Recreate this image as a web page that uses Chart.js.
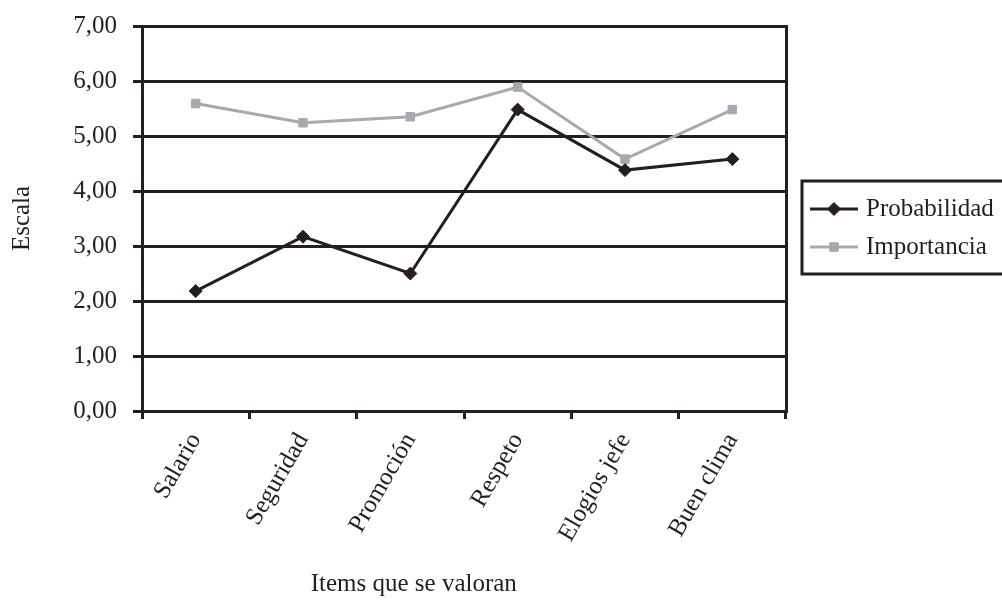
<!DOCTYPE html>
<html>
<head>
<meta charset="utf-8">
<script src="https://cdn.jsdelivr.net/npm/chart.js@4.4.1/dist/chart.umd.min.js"></script>
<style>
  html, body { margin: 0; padding: 0; background: #ffffff; }
  #wrap { width: 1002px; height: 600px; position: relative; }
</style>
</head>
<body>
<div id="wrap"><canvas id="chart" width="1002" height="600"></canvas></div>
<script>
// ---- data ----
const categories = ["Salario", "Seguridad", "Promoción", "Respeto", "Elogios jefe", "Buen clima"];
const seriesNames = ["Probabilidad", "Importancia"];
const probabilidad = [2.18, 3.17, 2.50, 5.48, 4.38, 4.58];
const importancia = [5.59, 5.24, 5.35, 5.89, 4.58, 5.48];
const yTicks = [0, 1, 2, 3, 4, 5, 6, 7];
const yTitle = "Escala";
const xTitle = "Items que se valoran";

// ---- styles ----
const DARK = "#231f20";
const GRAY = "#a7a9ac";
const FONT = "'Liberation Serif', 'Times New Roman', serif";
const FSIZE = 25;

Chart.defaults.font.family = FONT;
Chart.defaults.font.size = FSIZE;
Chart.defaults.color = DARK;

function drawMarker(ctx, style, r, x, y) {
  if (Chart.helpers && Chart.helpers.drawPoint) {
    Chart.helpers.drawPoint(ctx, { pointStyle: style, radius: r, borderWidth: 1, rotation: 0 }, x, y);
    return;
  }
  ctx.beginPath();
  if (style === "rectRot") {
    ctx.moveTo(x, y - r); ctx.lineTo(x + r, y); ctx.lineTo(x, y + r); ctx.lineTo(x - r, y); ctx.closePath();
  } else {
    const s = r * Math.SQRT1_2;
    ctx.rect(x - s, y - s, 2 * s, 2 * s);
  }
  ctx.fill(); ctx.stroke();
}

const sideLegend = {
  id: "sideLegend",
  afterDraw(chart) {
    const { ctx, chartArea } = chart;
    const left = chartArea.right + 16;
    const top = chartArea.top + 155;
    const h = 93;
    ctx.save();
    ctx.lineWidth = 3;
    ctx.strokeStyle = DARK;
    ctx.strokeRect(left, top, chart.width - left + 10, h);
    chart.data.datasets.forEach((ds, i) => {
      const y = top + 28 + i * 38;
      ctx.strokeStyle = ds.borderColor;
      ctx.lineWidth = ds.borderWidth;
      ctx.beginPath();
      ctx.moveTo(left + 8, y);
      ctx.lineTo(left + 56, y);
      ctx.stroke();
      ctx.fillStyle = ds.pointBackgroundColor;
      ctx.strokeStyle = ds.pointBorderColor;
      ctx.lineWidth = 1;
      drawMarker(ctx, ds.pointStyle, ds.pointRadius, left + 32, y);
      ctx.fillStyle = DARK;
      ctx.font = FSIZE + "px " + FONT;
      ctx.textAlign = "left";
      ctx.textBaseline = "middle";
      ctx.fillText(ds.label, left + 64, y);
    });
    ctx.restore();
  }
};

const xAxisTitle = {
  id: "xAxisTitle",
  afterDraw(chart) {
    const { ctx, chartArea } = chart;
    ctx.save();
    ctx.fillStyle = DARK;
    ctx.font = FSIZE + "px " + FONT;
    ctx.textAlign = "center";
    ctx.textBaseline = "middle";
    ctx.fillText(xTitle, chartArea.left + chartArea.width * 0.422, chart.height - 16);
    ctx.restore();
  }
};

new Chart(document.getElementById("chart"), {
  type: "line",
  data: {
    labels: categories,
    datasets: [
      {
        label: seriesNames[0],
        data: probabilidad,
        borderColor: DARK,
        backgroundColor: DARK,
        borderWidth: 3,
        pointStyle: "rectRot",
        pointRadius: 6.5,
        pointBackgroundColor: DARK,
        pointBorderColor: DARK,
        pointBorderWidth: 1,
        tension: 0,
        order: 1
      },
      {
        label: seriesNames[1],
        data: importancia,
        borderColor: GRAY,
        backgroundColor: GRAY,
        borderWidth: 3,
        pointStyle: "rect",
        pointRadius: 6,
        pointBackgroundColor: GRAY,
        pointBorderColor: GRAY,
        pointBorderWidth: 1,
        tension: 0,
        order: 2
      }
    ]
  },
  options: {
    responsive: false,
    animation: false,
    events: [],
    layout: { padding: { left: 0, right: 216, top: 26, bottom: 0 } },
    plugins: {
      legend: { display: false },
      tooltip: { enabled: false },
      title: { display: false }
    },
    scales: {
      x: {
        type: "category",
        offset: true,
        grid: {
          display: true,
          offset: true,
          drawOnChartArea: false,
          drawTicks: true,
          tickLength: 8,
          tickWidth: 3,
          tickColor: DARK,
          color: DARK,
          lineWidth: 3
        },
        border: { display: true, color: DARK, width: 3 },
        ticks: {
          autoSkip: false,
          minRotation: 60,
          maxRotation: 60,
          padding: 9,
          color: DARK,
          font: { size: FSIZE, family: FONT }
        },
        afterFit(scale) { scale.height = 189; }
      },
      y: {
        min: yTicks[0],
        max: yTicks[yTicks.length - 1],
        afterBuildTicks(scale) { scale.ticks = yTicks.map(v => ({ value: v })); },
        grid: {
          color: DARK,
          lineWidth: 3,
          drawTicks: true,
          tickLength: 9,
          tickColor: DARK
        },
        border: { display: true, color: DARK, width: 3 },
        ticks: {
          padding: 16,
          color: DARK,
          font: { size: FSIZE, family: FONT },
          callback: v => Number(v).toFixed(2).replace(".", ",")
        },
        title: {
          display: true,
          text: yTitle,
          color: DARK,
          font: { size: FSIZE, family: FONT },
          padding: { top: 7, bottom: 0 }
        },
        afterFit(scale) {
          scale.width = 142;
          scale.paddingTop = 0;
          scale.paddingBottom = 0;
        }
      },
      y2: {
        position: "right",
        min: 0,
        max: 7,
        grid: { display: false, drawTicks: false },
        ticks: { display: false },
        border: { display: true, color: DARK, width: 3 },
        afterFit(scale) { scale.width = 0; }
      }
    }
  },
  plugins: [sideLegend, xAxisTitle]
});
</script>
</body>
</html>
